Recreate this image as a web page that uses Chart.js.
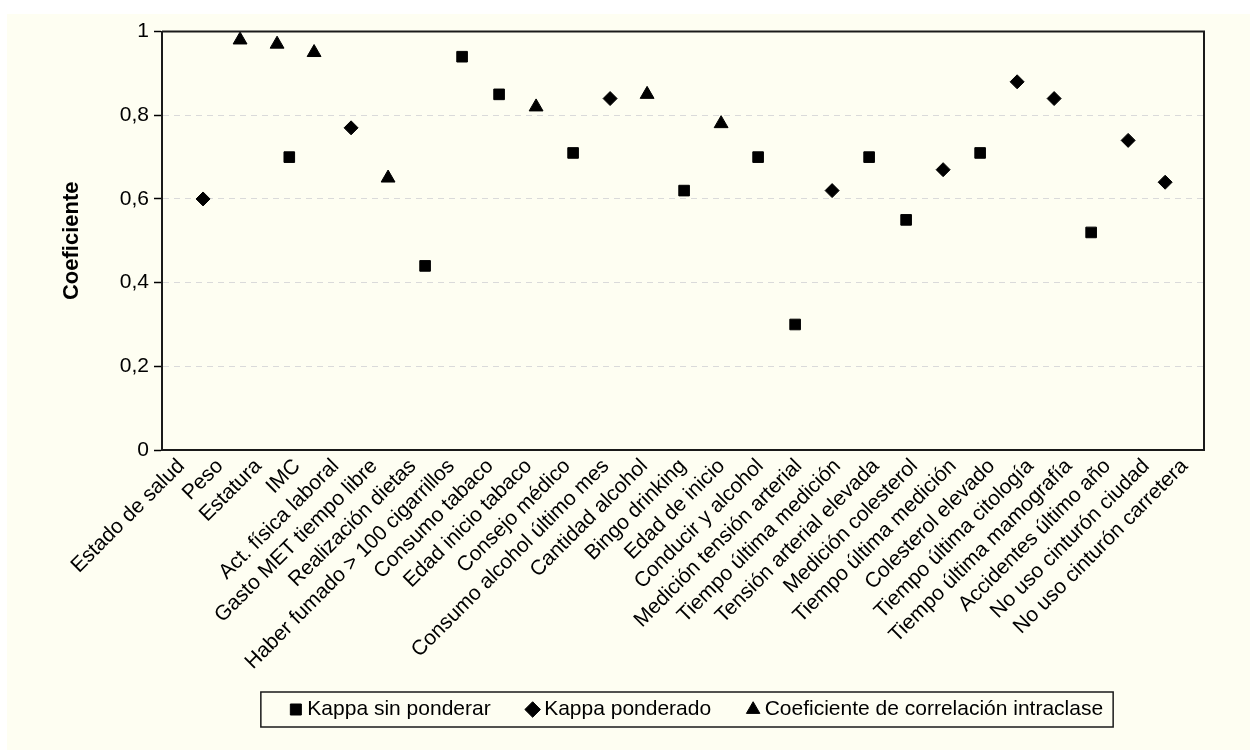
<!DOCTYPE html>
<html lang="es">
<head>
<meta charset="utf-8">
<title>Coeficiente</title>
<script src="https://cdn.jsdelivr.net/npm/chart.js@4.4.1/dist/chart.umd.min.js"></script>
<style>
    html, body { margin: 0; padding: 0; background: #ffffff; }
    #wrap {
        position: absolute;
        left: 7px;
        top: 14px;
        width: 1243px;
        height: 736px;
        background: #fefef2;
    }
</style>
</head>
<body>
<div id="wrap"><canvas id="grafico" width="1243" height="736"></canvas></div>
<script>
// Categorias del eje X
const categorias = [
    'Estado de salud', 'Peso', 'Estatura', 'IMC', 'Act. física laboral',
    'Gasto MET tiempo libre', 'Realización dietas', 'Haber fumado > 100 cigarrillos',
    'Consumo tabaco', 'Edad inicio tabaco', 'Consejo médico', 'Consumo alcohol último mes',
    'Cantidad alcohol', 'Bingo drinking', 'Edad de inicio', 'Conducir y alcohol',
    'Medición tensión arterial', 'Tiempo última medición', 'Tensión arterial elevada',
    'Medición colesterol', 'Tiempo última medición', 'Colesterol elevado',
    'Tiempo última citología', 'Tiempo última mamografía', 'Accidentes último año',
    'No uso cinturón ciudad', 'No uso cinturón carretera'
];

// Valores por serie (null = sin dato)
const kappaSinPonderar = [
    null, null, null, null, null, null, 0.44, 0.94, 0.85, null, 0.71, null,
    null, 0.62, null, 0.70, 0.30, null, 0.70, 0.55, null, 0.71, null, null,
    0.52, null, null
];
const kappaPonderado = [
    0.60, null, null, null, 0.77, null, null, null, null, null, null, 0.84,
    null, null, null, null, null, 0.62, null, null, 0.67, null, 0.88, 0.84,
    null, 0.74, 0.64
];
const correlacionIntraclase = [
    null, 0.98, 0.97, 0.95, null, 0.65, null, null, null, 0.82, null, null,
    0.85, null, 0.78, null, null, null, null, null, null, null, null, null,
    null, null, null
];
// punto suelto de kappa sin ponderar entre Estatura e IMC
const kappaExtraPos = [2.33];
const kappaExtraVal = [0.70];

const yTicks = [0, 0.2, 0.4, 0.6, 0.8, 1];

function toPoints(values) {
    const pts = [];
    values.forEach((v, i) => {
        if (v !== null) pts.push({ x: i, y: v });
    });
    return pts;
}

const FONT = "'Liberation Sans', Arial, Helvetica, sans-serif";
Chart.defaults.font.family = FONT;
Chart.defaults.color = '#000';

// marco completo alrededor del area del grafico + caja de la leyenda
const framePlugin = {
    id: 'marco',
    afterLayout(chart) {
        // las etiquetas giradas pueden bajar hasta la leyenda sin recortarse
        chart.scales.x.bottom = chart.height;
        // leyenda un poco a la derecha, como en el original
        chart.legend.left += 16;
        chart.legend.right += 16;
    },
    afterDraw(chart) {
        const ctx = chart.ctx;
        const a = chart.chartArea;
        ctx.save();
        ctx.strokeStyle = '#1a1a1a';
        ctx.lineWidth = 2;
        ctx.beginPath();
        ctx.moveTo(a.left, a.top);
        ctx.lineTo(a.right, a.top);
        ctx.lineTo(a.right, a.bottom);
        ctx.stroke();

        const boxes = chart.legend && chart.legend.legendHitBoxes;
        if (boxes && boxes.length) {
            const first = boxes[0];
            const last = boxes[boxes.length - 1];
            const left = first.left - 34;
            const right = last.left + last.width + 10;
            const top = first.top - 7;
            const bottom = first.top + 28;
            ctx.lineWidth = 1.5;
            ctx.strokeRect(left, top, right - left, bottom - top);
        }
        ctx.restore();
    }
};

const kappaPts = toPoints(kappaSinPonderar);
kappaExtraPos.forEach((p, i) => kappaPts.push({ x: p, y: kappaExtraVal[i] }));

new Chart(document.getElementById('grafico'), {
    type: 'scatter',
    data: {
        datasets: [
            {
                label: 'Kappa sin ponderar',
                data: kappaPts,
                xAxisID: 'xp',
                pointStyle: 'rect',
                pointRadius: 7.5,
                pointBorderWidth: 1,
                backgroundColor: '#000',
                borderColor: '#000'
            },
            {
                label: 'Kappa ponderado',
                data: toPoints(kappaPonderado),
                xAxisID: 'xp',
                pointStyle: 'rectRot',
                pointRadius: 7,
                pointBorderWidth: 1,
                backgroundColor: '#000',
                borderColor: '#000'
            },
            {
                label: 'Coeficiente de correlación intraclase',
                data: toPoints(correlacionIntraclase),
                xAxisID: 'xp',
                pointStyle: 'triangle',
                pointRadius: 8,
                pointBorderWidth: 1,
                backgroundColor: '#000',
                borderColor: '#000'
            }
        ]
    },
    options: {
        responsive: false,
        animation: false,
        layout: {
            padding: { top: 15, right: 46, bottom: 20, left: 0 }
        },
        plugins: {
            legend: {
                position: 'bottom',
                fullSize: false,
                labels: {
                    usePointStyle: true,
                    boxWidth: 2,
                    boxHeight: 11,
                    padding: 41,
                    color: '#000',
                    font: { size: 21 }
                }
            },
            tooltip: { enabled: false }
        },
        scales: {
            x: {
                type: 'category',
                labels: categorias,
                offset: true,
                position: 'bottom',
                grid: { display: false, drawTicks: false },
                border: { display: true, color: '#1a1a1a', width: 2 },
                ticks: {
                    autoSkip: false,
                    maxRotation: 45,
                    minRotation: 45,
                    padding: 4,
                    color: '#000',
                    font: { size: 21 }
                },
                afterFit(scale) { scale.height = 208; }
            },
            xp: {
                type: 'linear',
                display: false,
                position: 'bottom',
                min: -1.11,
                max: 27.05
            },
            y: {
                type: 'linear',
                min: 0,
                max: 1,
                afterBuildTicks(scale) {
                    scale.ticks = yTicks.map(v => ({ value: v }));
                },
                grid: {
                    color: ctx => (ctx.tick && (ctx.tick.value === 0 || ctx.tick.value === 1)) ? 'rgba(0,0,0,0)' : '#dadada',
                    lineWidth: 1,
                    tickLength: 8,
                    tickColor: '#000',
                    tickWidth: 1.5
                },
                border: { display: true, color: '#1a1a1a', width: 2, dash: [6, 5] },
                ticks: {
                    padding: 5,
                    color: '#000',
                    font: { size: 21 },
                    callback: v => (v === 0 || v === 1) ? String(v) : v.toFixed(1).replace('.', ',')
                },
                title: {
                    display: true,
                    text: 'Coeficiente',
                    color: '#000',
                    font: { size: 22, weight: 'bold' },
                    padding: { top: 52, bottom: 0 }
                },
                afterFit(scale) { scale.width = 155; }
            }
        }
    },
    plugins: [framePlugin]
});
</script>
</body>
</html>
